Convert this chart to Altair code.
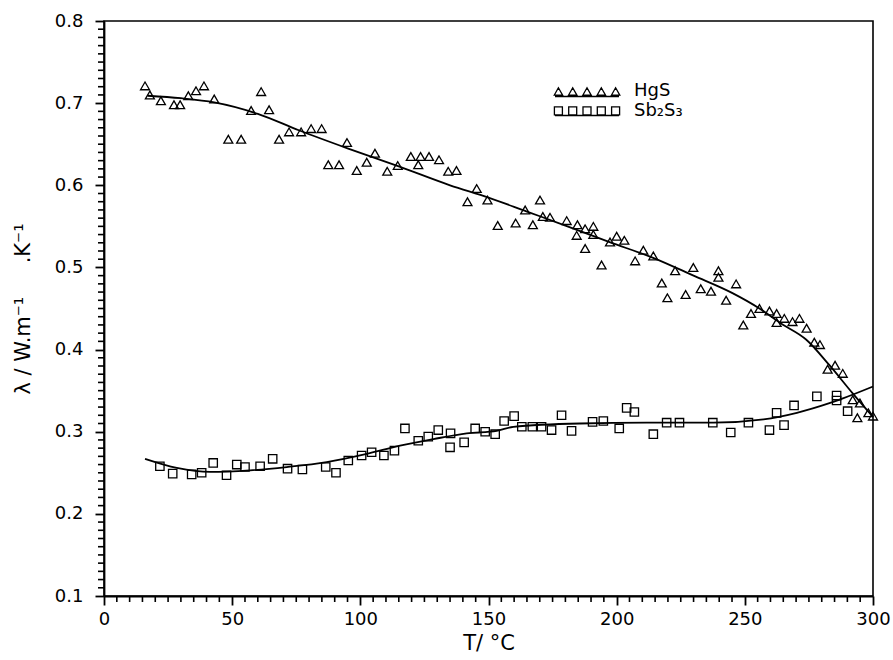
import altair as alt
import pandas as pd

# ---- data ----
hgs_T = [16.0, 17.9, 22.2, 27.3, 29.7, 32.9, 35.9, 39.0, 43.0, 48.5, 53.5, 57.4, 61.3, 64.4,
         68.3, 72.2, 76.9, 80.8, 84.9, 87.5, 91.7, 94.8, 98.6, 102.5, 105.7, 110.5, 114.6,
         119.7, 122.6, 123.5, 126.8, 130.7, 134.3, 137.5,
         145.4, 141.8, 149.6, 170.1, 153.6, 160.6, 164.3, 167.3, 171.2, 174.0, 180.5, 184.7,
         184.4, 187.7, 190.9, 190.9, 187.7, 194.1, 197.4, 200.0, 203.0, 207.2, 210.4, 214.3,
         217.6, 219.8, 222.8, 226.9, 229.9, 232.8, 236.8, 239.7, 239.7, 242.7, 246.6, 249.4,
         252.4, 255.7, 259.6, 262.4, 262.4, 265.4, 268.6, 271.3, 274.1, 277.1, 279.3, 282.3,
         285.2, 288.2, 292.1, 294.9, 293.9, 298.2, 300.0]
hgs_L = [0.721, 0.710, 0.703, 0.698, 0.698, 0.709, 0.715, 0.721, 0.705, 0.656, 0.656, 0.691,
         0.714, 0.692, 0.656, 0.665, 0.665, 0.669, 0.669, 0.625, 0.625, 0.652, 0.618, 0.628,
         0.639, 0.617, 0.624, 0.635, 0.625, 0.635, 0.635, 0.631, 0.617, 0.618,
         0.596, 0.580, 0.582, 0.582, 0.551, 0.554, 0.570, 0.552, 0.562, 0.561, 0.557, 0.552,
         0.539, 0.547, 0.550, 0.540, 0.523, 0.503, 0.531, 0.538, 0.533, 0.508, 0.521, 0.514,
         0.481, 0.463, 0.496, 0.467, 0.500, 0.474, 0.471, 0.496, 0.488, 0.460, 0.480, 0.430,
         0.444, 0.450, 0.447, 0.444, 0.433, 0.438, 0.434, 0.438, 0.426, 0.409, 0.406, 0.376,
         0.381, 0.371, 0.339, 0.335, 0.317, 0.323, 0.319]

sb_T = [21.8, 26.8, 34.2, 38.1, 42.6, 47.8, 51.8, 55.0, 60.9, 65.8, 71.6, 77.4, 86.5, 90.5,
        95.3, 100.5, 104.4, 109.2, 113.3, 117.4, 122.6, 126.5, 130.4, 135.2, 135.0, 140.5,
        144.8, 148.7, 152.6, 156.1, 160.0, 163.0, 167.1, 170.7, 174.6, 178.5, 182.4, 190.6,
        194.8, 201.0, 203.9, 206.9, 214.3, 219.5, 224.5, 237.5, 244.5, 251.4, 259.6, 262.4,
        265.3, 269.2, 278.1, 285.8, 285.8, 290.1]
sb_L = [0.258, 0.249, 0.248, 0.250, 0.262, 0.247, 0.260, 0.257, 0.258, 0.267, 0.255, 0.254,
        0.257, 0.250, 0.265, 0.271, 0.275, 0.271, 0.277, 0.304, 0.289, 0.294, 0.302, 0.298,
        0.281, 0.287, 0.304, 0.300, 0.297, 0.313, 0.319, 0.306, 0.306, 0.306, 0.302, 0.320,
        0.301, 0.312, 0.313, 0.304, 0.329, 0.324, 0.297, 0.311, 0.311, 0.311, 0.299, 0.311,
        0.302, 0.323, 0.308, 0.332, 0.343, 0.344, 0.338, 0.325]

hgs_fit_T = [17, 30, 43, 60, 76, 95, 115, 135, 150, 165, 180, 197, 214, 230, 245, 255.7,
             264, 274, 283, 292, 300]
hgs_fit_L = [0.709, 0.706, 0.701, 0.687, 0.667, 0.645, 0.623, 0.600, 0.585, 0.568, 0.551,
             0.531, 0.512, 0.490, 0.469, 0.450, 0.432, 0.412, 0.381, 0.347, 0.318]

sb_fit_T = [16.0, 28.4, 41.4, 57.0, 71.3, 86.9, 102.5, 115.5, 128.5, 141.5, 153.2, 159.7,
            185.7, 211.7, 237.7, 257.3, 270.3, 283.3, 300.0]
sb_fit_L = [0.267, 0.256, 0.251, 0.253, 0.257, 0.263, 0.273, 0.283, 0.291, 0.298, 0.301,
            0.306, 0.310, 0.311, 0.311, 0.315, 0.323, 0.335, 0.355]

legend_labels = ["HgS", "Sb\u2082S\u2083"]

x_major = [0, 50, 100, 150, 200, 250, 300]
x_minor = [v for v in range(0, 301, 5) if v % 50 != 0]
y_major = [0.1, 0.2, 0.3, 0.4, 0.5, 0.6, 0.7, 0.8]
y_minor = [round(0.1 + 0.01 * i, 2) for i in range(71) if i % 10 != 0]

# ---- tables ----
hgs_df = pd.DataFrame({"T": hgs_T, "L": hgs_L})
sb_df = pd.DataFrame({"T": sb_T, "L": sb_L})
hgs_fit = pd.DataFrame({"T": hgs_fit_T, "L": hgs_fit_L})
sb_fit = pd.DataFrame({"T": sb_fit_T, "L": sb_fit_L})
xminor_df = pd.DataFrame({"v": x_minor})
yminor_df = pd.DataFrame({"v": y_minor})

FONT = "DejaVu Sans"
NB = "\u00a0"
W, H = 769, 575
xs = alt.Scale(domain=[0, 300], nice=False, zero=False)
ys = alt.Scale(domain=[0.1, 0.8], nice=False, zero=False)

x_axis = alt.Axis(orient="bottom", values=x_major, ticks=True, tickSize=9, tickWidth=1.8,
                  domainWidth=1.8, domainColor="black", tickColor="black", tickOpacity=1,
                  labelFont=FONT, labelFontSize=18, labelColor="black", labelPadding=5,
                  title=f"T/{NB}\u00b0C", titleFont=FONT, titleFontSize=21,
                  titleFontWeight="normal", titleColor="black", titlePadding=4,
                  grid=False, labelFlush=False)
y_axis = alt.Axis(orient="left", values=y_major, format=".1f", ticks=True, tickSize=9,
                  tickWidth=1.8, domainWidth=1.8, domainColor="black", tickColor="black",
                  tickOpacity=1,
                  labelFont=FONT, labelFontSize=18, labelColor="black", labelPadding=12,
                  title=f"\u03bb{NB}/{NB}W.m\u207b\u00b9{NB*5}.K\u207b\u00b9", titleFont=FONT,
                  titleFontSize=21, titleFontWeight="normal", titleColor="black",
                  titlePadding=21, grid=False, labelFlush=False)

hgs_pts = alt.Chart(hgs_df).mark_point(
    shape="triangle-up", size=80, filled=False, color="black", strokeWidth=1.3, opacity=1
).encode(
    x=alt.X("T:Q", scale=xs, axis=x_axis),
    y=alt.Y("L:Q", scale=ys, axis=y_axis),
)

sb_pts = alt.Chart(sb_df).mark_point(
    shape="square", size=70, filled=False, color="black", strokeWidth=1.3, opacity=1
).encode(
    x=alt.X("T:Q", scale=xs),
    y=alt.Y("L:Q", scale=ys),
)

hgs_line = alt.Chart(hgs_fit).mark_line(
    color="black", strokeWidth=1.8, interpolate="monotone"
).encode(
    x=alt.X("T:Q", scale=xs),
    y=alt.Y("L:Q", scale=ys),
)
sb_line = alt.Chart(sb_fit).mark_line(
    color="black", strokeWidth=1.8, interpolate="monotone"
).encode(
    x=alt.X("T:Q", scale=xs),
    y=alt.Y("L:Q", scale=ys),
)

# ---- minor ticks, placed through the axis scales ----
x_minor_ticks = alt.Chart(xminor_df).mark_rule(
    color="black", strokeWidth=1.6, opacity=1, clip=False
).encode(
    x=alt.X("v:Q", scale=xs),
    y=alt.value(H), y2=alt.value(H + 6),
)
y_minor_ticks = alt.Chart(yminor_df).mark_rule(
    color="black", strokeWidth=1.6, opacity=1, clip=False
).encode(
    y=alt.Y("v:Q", scale=ys),
    x=alt.value(0), x2=alt.value(-6),
)

# ---- legend (custom symbol rows) ----
centers = [-2.86, -1.43, 0.0, 1.43, 2.86]
tri_path = "".join(f"M{c-0.42:.2f},0.32L{c:.2f},-0.42L{c+0.42:.2f},0.32Z" for c in centers) \
    + "M-3.2,0.45L3.2,0.45"
sq_path = "".join(f"M{c-0.4:.2f},-0.42H{c+0.4:.2f}V0.38H{c-0.4:.2f}Z" for c in centers) \
    + "M-3.2,0.45L3.2,0.45"

leg_df = pd.DataFrame({"label": legend_labels})

leg_sym_hgs = alt.Chart(leg_df).transform_filter(alt.datum.label == legend_labels[0]).mark_point(
    shape=tri_path, size=400, filled=False, color="black", strokeWidth=1.3, opacity=1
).encode(x=alt.value(483), y=alt.value(71))
leg_sym_sb = alt.Chart(leg_df).transform_filter(alt.datum.label == legend_labels[1]).mark_point(
    shape=sq_path, size=400, filled=False, color="black", strokeWidth=1.3, opacity=1
).encode(x=alt.value(483), y=alt.value(90))
leg_txt_hgs = alt.Chart(leg_df).transform_filter(alt.datum.label == legend_labels[0]).mark_text(
    align="left", baseline="middle", font=FONT, fontSize=18, color="black"
).encode(x=alt.value(530), y=alt.value(70), text="label:N")
leg_txt_sb = alt.Chart(leg_df).transform_filter(alt.datum.label == legend_labels[1]).mark_text(
    align="left", baseline="middle", font=FONT, fontSize=18, color="black"
).encode(x=alt.value(530), y=alt.value(90), text="label:N")

chart = alt.layer(
    hgs_pts, sb_pts, hgs_line, sb_line, x_minor_ticks, y_minor_ticks,
    leg_sym_hgs, leg_sym_sb, leg_txt_hgs, leg_txt_sb
).properties(
    width=W, height=H,
    autosize=alt.AutoSizeParams(type="none"),
    padding={"left": 104, "top": 21, "right": 20, "bottom": 64},
    background="white",
).configure_view(stroke="black", strokeWidth=1.6)

chart.save("out.html", embed_options={"renderer": "svg", "actions": False})
